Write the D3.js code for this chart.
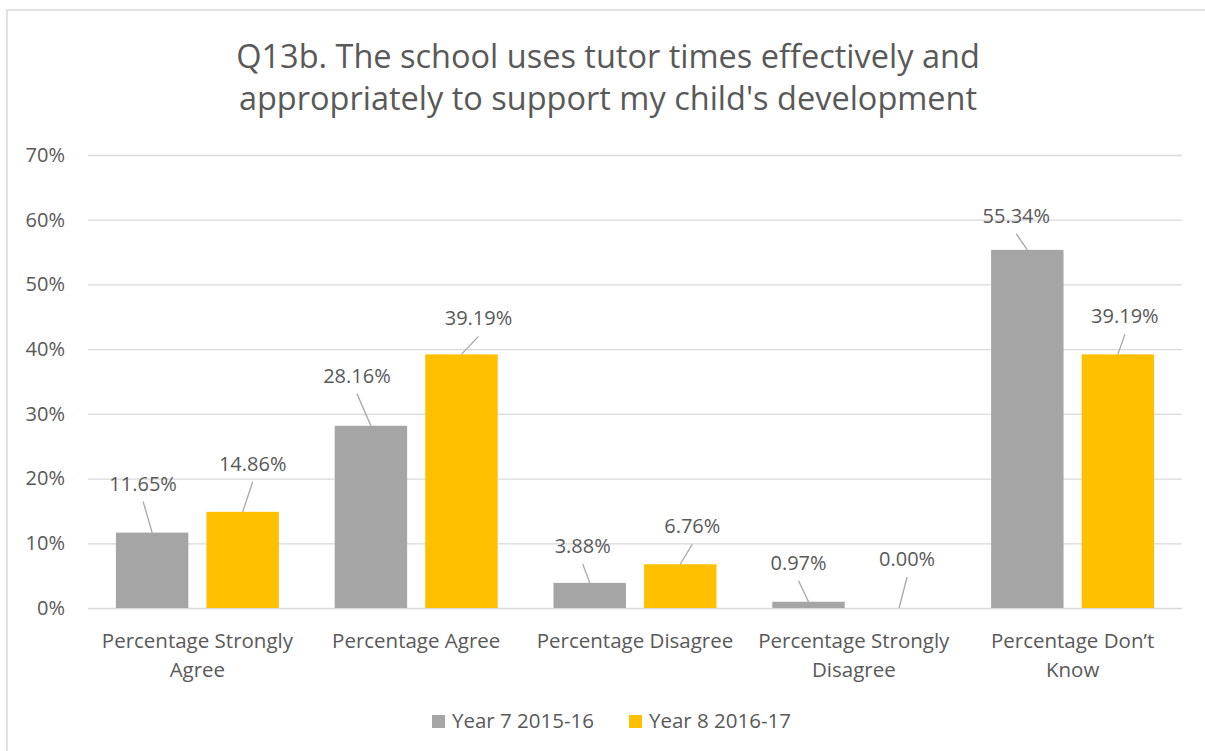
<!DOCTYPE html>
<html>
<head>
<meta charset="utf-8">
<script src="https://cdn.jsdelivr.net/npm/d3@7"></script>
<style>
  html, body { margin: 0; padding: 0; background: #fff; }
  svg { display: block; }
  text { font-family: "Open Sans", "Noto Sans", sans-serif; fill: #595959; }
</style>
</head>
<body>
<svg id="chart" width="1205" height="751"></svg>
<script>
// ---- data ----
const categories = [
  ["Percentage Strongly", "Agree"],
  ["Percentage Agree"],
  ["Percentage Disagree"],
  ["Percentage Strongly", "Disagree"],
  ["Percentage Don\u2019t", "Know"]
];
const seriesNames = ["Year 7 2015-16", "Year 8 2016-17"];
const year7 = [11.65, 28.16, 3.88, 0.97, 55.34];
const year8 = [14.86, 39.19, 6.76, 0.00, 39.19];
const yTicks = [0, 10, 20, 30, 40, 50, 60, 70];
const titleLines = ["Q13b. The school uses tutor times effectively and",
                    "appropriately to support my child's development"];

// label callout offsets (layout, px) relative to bar top centre: [dx, dy]
const year7LabelOffsets = [[-9, -31], [-14, -32], [-7, -19], [-10, -21], [-11, -16]];
const year8LabelOffsets = [[10, -30], [17, -18], [12, -20], [8, -31], [7, -20]];

const colors = ["#a5a5a5", "#ffc000"];

// ---- layout ----
const svg = d3.select("#chart");
const W = 1205, H = 751;
const plot = { left: 88, right: 1182, top: 155, bottom: 608 };

// frame
svg.append("rect")
  .attr("x", 7).attr("y", 10)
  .attr("width", W + 10).attr("height", H + 10)
  .attr("fill", "#fff").attr("stroke", "#d9d9d9").attr("stroke-width", 1.5);

// title
svg.append("g").selectAll("text").data(titleLines).join("text")
  .attr("x", 608).attr("y", (d, i) => 68 + i * 42)
  .attr("text-anchor", "middle")
  .attr("font-size", 32.5)
  .text(d => d);

const x0 = d3.scaleBand()
  .domain(d3.range(categories.length))
  .range([plot.left, plot.right])
  .paddingInner(0.255).paddingOuter(0.1275);
const x1 = d3.scaleBand()
  .domain(d3.range(seriesNames.length))
  .range([0, x0.bandwidth()])
  .paddingInner(0.2);
const y = d3.scaleLinear().domain([0, 70]).range([plot.bottom, plot.top]);

// gridlines + y axis
const yAxis = d3.axisLeft(y).tickValues(yTicks).tickFormat(d => d + "%")
  .tickSize(-(plot.right - plot.left)).tickPadding(23);
const gy = svg.append("g").attr("transform", `translate(${plot.left},0)`).call(yAxis);
gy.select(".domain").remove();
gy.selectAll(".tick line").attr("stroke", "#d9d9d9").attr("stroke-width", 1.3);
gy.selectAll(".tick text").attr("font-size", 20).attr("fill", "#595959")
  .attr("font-family", "'Open Sans', sans-serif");

// bars
const series = [year7, year8];
const offsets = [year7LabelOffsets, year8LabelOffsets];
series.forEach((vals, s) => {
  const g = svg.append("g");
  g.selectAll("rect").data(vals).join("rect")
    .attr("x", (d, i) => x0(i) + x1(s))
    .attr("y", d => y(d))
    .attr("width", x1.bandwidth())
    .attr("height", d => y(0) - y(d))
    .attr("fill", colors[s]);
});

// data labels with leader lines
series.forEach((vals, s) => {
  const g = svg.append("g");
  vals.forEach((v, i) => {
    const cx = x0(i) + x1(s) + x1.bandwidth() / 2;
    const top = y(v);
    const [dx, dy] = offsets[s][i];
    const lx = cx + dx, ly = top + dy;
    g.append("line")
      .attr("x1", lx).attr("y1", ly)
      .attr("x2", cx).attr("y2", top)
      .attr("stroke", "#a6a6a6").attr("stroke-width", 1.3);
    g.append("text")
      .attr("x", lx).attr("y", ly - 11)
      .attr("text-anchor", "middle")
      .attr("font-size", 20)
      .text(v.toFixed(2) + "%");
  });
});

// category labels
const gx = svg.append("g");
categories.forEach((lines, i) => {
  gx.append("text")
    .attr("x", x0(i) + x0.bandwidth() / 2)
    .attr("y", 648)
    .attr("text-anchor", "middle")
    .attr("font-size", 20.5)
    .selectAll("tspan").data(lines).join("tspan")
    .attr("x", x0(i) + x0.bandwidth() / 2)
    .attr("dy", (d, k) => k === 0 ? 0 : 29)
    .text(d => d);
});

// legend
const legend = svg.append("g");
const legendX = [432, 629];
seriesNames.forEach((name, s) => {
  legend.append("rect")
    .attr("x", legendX[s]).attr("y", 715)
    .attr("width", 13).attr("height", 13)
    .attr("fill", colors[s]);
  legend.append("text")
    .attr("x", legendX[s] + 20).attr("y", 728)
    .attr("font-size", 20.5)
    .text(name);
});
</script>
</body>
</html>
